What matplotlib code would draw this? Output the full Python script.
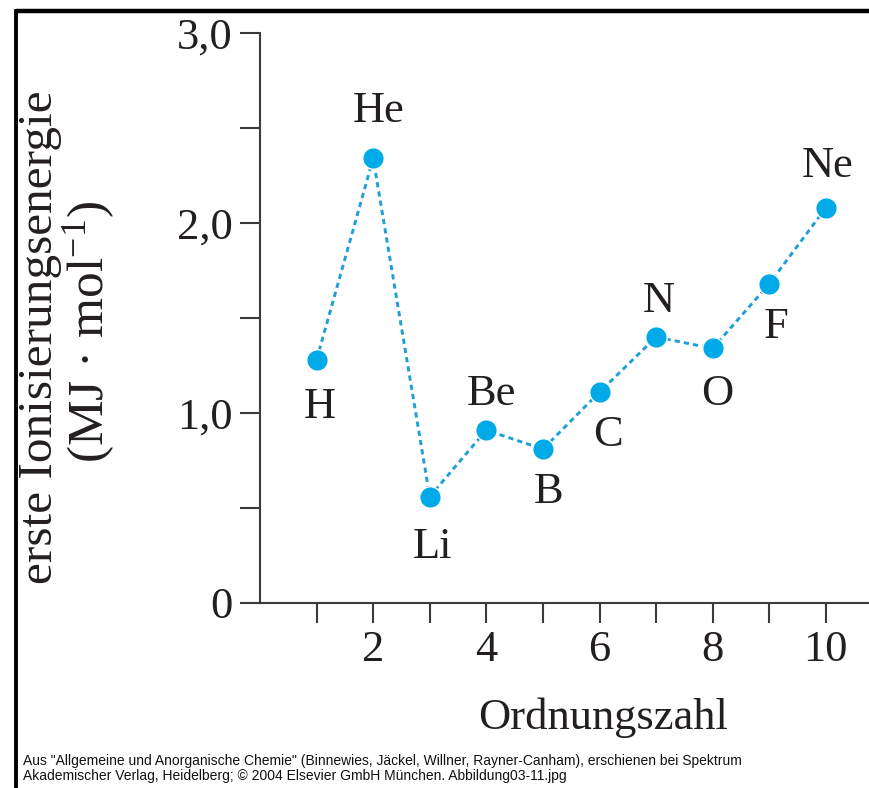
import matplotlib
matplotlib.use("Agg")
import matplotlib.pyplot as plt
from matplotlib.lines import Line2D
from matplotlib.ticker import FixedLocator

# First ionisation energies of the period-1 and period-2 elements (MJ/mol)
elements = ["H", "He", "Li", "Be", "B", "C", "N", "O", "F", "Ne"]
atomic_numbers = [1, 2, 3, 4, 5, 6, 7, 8, 9, 10]
ionisation_energy = [1.28, 2.34, 0.56, 0.91, 0.81, 1.11, 1.40, 1.34, 1.68, 2.08]

y_ticks_major = [0, 1, 2, 3]
y_tick_labels = ["0", "1,0", "2,0", "3,0"]
y_ticks_minor = [0.5, 1.5, 2.5]
x_ticks_major = [2, 4, 6, 8, 10]
x_tick_labels = ["2", "4", "6", "8", "10"]
x_ticks_minor = [1, 3, 5, 7, 9]

# label placement relative to each point (points: dx, baseline dy)
label_offsets = [(2, -42), (4, 26), (2, -44), (4, 18), (4, -39),
                 (6, -39), (2, 18), (3, -41), (5, -39), (1, 22)]

plt.rcParams["font.family"] = ["Liberation Serif", "DejaVu Serif"]
plt.rcParams["mathtext.fontset"] = "custom"
plt.rcParams["mathtext.rm"] = "Liberation Serif"
plt.rcParams["mathtext.it"] = "Liberation Serif:italic"

W, H = 870, 788
fig = plt.figure(figsize=(W / 100, H / 100), dpi=100)
ax = fig.add_axes([260 / W, 1 - 603 / H, (W - 260) / W, (603 - 33) / H])

text_color = "#231f20"
axis_color = "#3a3a3a"
line_color = "#1f9fd6"
dot_color = "#00a9e8"

ax.plot(atomic_numbers, ionisation_energy, ls=(0, (1.8, 1.4)), lw=2.1,
        color=line_color, zorder=2)
ax.plot(atomic_numbers, ionisation_energy, ls="none", marker="o",
        markersize=15.5, markerfacecolor=dot_color,
        markeredgecolor="white", markeredgewidth=1.0, zorder=3)

for name, xv, yv, (dx, dy) in zip(elements, atomic_numbers,
                                  ionisation_energy, label_offsets):
    ax.annotate(name, (xv, yv), xytext=(dx, dy), textcoords="offset points",
                ha="center", va="baseline", fontsize=32, color=text_color)

ax.set_xlim(0, 10.78)
ax.set_ylim(0, 3.0)

for side in ("top", "right"):
    ax.spines[side].set_visible(False)
for side in ("left", "bottom"):
    ax.spines[side].set_color(axis_color)
    ax.spines[side].set_linewidth(1.5)

ax.yaxis.set_major_locator(FixedLocator(y_ticks_major))
ax.set_yticklabels(y_tick_labels)
ax.yaxis.set_minor_locator(FixedLocator(y_ticks_minor))
ax.xaxis.set_major_locator(FixedLocator(x_ticks_major))
ax.set_xticklabels(x_tick_labels)
ax.xaxis.set_minor_locator(FixedLocator(x_ticks_minor))

ax.tick_params(axis="both", which="both", direction="out", length=14.5,
               width=1.5, color=axis_color)
ax.tick_params(axis="y", which="major", pad=5, labelsize=32,
               labelcolor=text_color)
ax.tick_params(axis="x", which="major", pad=5, labelsize=32,
               labelcolor=text_color)

# axis titles
fig.text(40 / W, 1 - 337 / H, "erste Ionisierungsenergie", rotation=90,
         ha="center", va="center", fontsize=35.5, color=text_color)
fig.text(89 / W, 1 - 332 / H, r"(MJ · mol$^{-1}$)", rotation=90,
         ha="center", va="center", fontsize=37, color=text_color)
fig.text(603 / W, 1 - 718 / H, "Ordnungszahl", ha="center", va="center",
         fontsize=32, color=text_color)

# source note
note_font = ["Liberation Sans", "DejaVu Sans"]
fig.text(23 / W, 1 - 761 / H,
         'Aus "Allgemeine und Anorganische Chemie" (Binnewies, Jäckel, '
         'Willner, Rayner-Canham), erschienen bei Spektrum',
         ha="left", va="center", fontsize=10, color="#111111",
         family=note_font)
fig.text(23 / W, 1 - 776 / H,
         "Akademischer Verlag, Heidelberg; © 2004 Elsevier GmbH München. "
         "Abbildung03-11.jpg",
         ha="left", va="center", fontsize=10, color="#111111",
         family=note_font)

# frame along the top and left edges
fig.add_artist(Line2D([16 / W, 1.0], [1 - 10.5 / H, 1 - 10.5 / H],
                      transform=fig.transFigure, color="black", lw=3.2,
                      solid_capstyle="butt"))
fig.add_artist(Line2D([16 / W, 16 / W], [0.0, 1 - 9 / H],
                      transform=fig.transFigure, color="black", lw=2.8,
                      solid_capstyle="butt"))

fig.savefig("out.png", dpi=100)
